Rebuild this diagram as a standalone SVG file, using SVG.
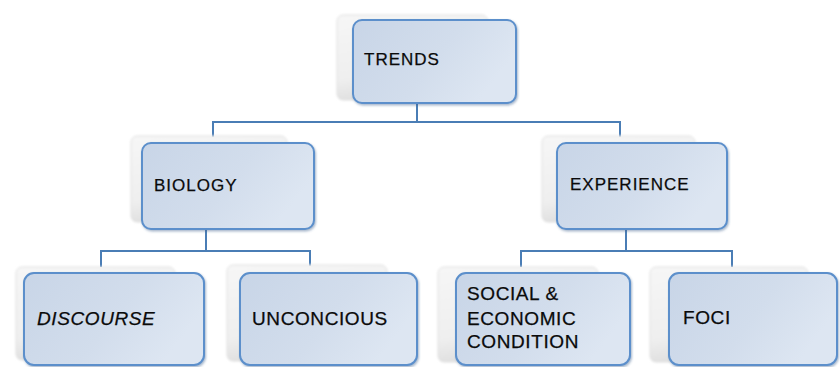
<svg xmlns="http://www.w3.org/2000/svg" width="840" height="367" viewBox="0 0 840 367">
  <defs>
    <linearGradient id="cardFill" x1="0" y1="0" x2="1" y2="0.4">
      <stop offset="0" stop-color="#c8d5e7"/>
      <stop offset="0.6" stop-color="#d2ddec"/>
      <stop offset="1" stop-color="#dde6f2"/>
    </linearGradient>
    <linearGradient id="backFill" x1="0" y1="0" x2="0.3" y2="1">
      <stop offset="0" stop-color="#f6f6f6"/>
      <stop offset="0.7" stop-color="#efefef"/>
      <stop offset="1" stop-color="#dcdcdc"/>
    </linearGradient>
    <filter id="soft" x="-10%" y="-10%" width="120%" height="130%">
      <feGaussianBlur stdDeviation="0.8"/>
    </filter>
    <filter id="lift" x="-10%" y="-10%" width="125%" height="130%">
      <feDropShadow dx="1" dy="1.5" stdDeviation="1" flood-color="#3a5f8c" flood-opacity="0.45"/>
    </filter>
  </defs>
  <style>
    .back { fill: url(#backFill); stroke: #e0e0e0; stroke-width: 1; filter: url(#soft); }
    .card { fill: url(#cardFill); stroke: #5b8fcb; stroke-width: 2; filter: url(#lift); }
    .link { fill: none; stroke: #4a7db5; stroke-width: 2; }
    .label { font-family: "Liberation Sans", Arial, sans-serif; fill: #0a0a0a; stroke: #0a0a0a; stroke-width: 0.25; }
    .mid { font-size: 17px; letter-spacing: 1px; }
    .low { font-size: 19px; letter-spacing: 0.6px; }
  </style>

  <rect width="840" height="367" fill="#ffffff"/>

  <g id="connectors">
    <path class="link" d="M417 104 V122 M213 122 H620 M213 121 V137 M620 121 V137"/>
    <path class="link" d="M206 230 V251 M101 251 H310 M101 250 V267 M310 250 V266"/>
    <path class="link" d="M626 230 V251 M521 251 H732 M521 250 V267 M732 250 V267"/>
  </g>

  <g id="node-trends">
    <rect class="back" x="337" y="15" width="151" height="85" rx="6"/>
    <rect class="card" x="353" y="20" width="163" height="83" rx="9"/>
    <text class="label mid" x="364" y="65" letter-spacing="0.5">TRENDS</text>
  </g>

  <g id="node-biology">
    <rect class="back" x="131" y="136" width="156" height="86" rx="6"/>
    <rect class="card" x="142" y="143" width="172" height="86" rx="9"/>
    <text class="label mid" x="154" y="191" letter-spacing="1.6">BIOLOGY</text>
  </g>

  <g id="node-experience">
    <rect class="back" x="542" y="136" width="153" height="86" rx="6"/>
    <rect class="card" x="557" y="143" width="170" height="86" rx="9"/>
    <text class="label mid" x="570" y="190">EXPERIENCE</text>
  </g>

  <g id="node-discourse">
    <rect class="back" x="16" y="267" width="159" height="93" rx="6"/>
    <rect class="card" x="24" y="273" width="180" height="92" rx="10"/>
    <text class="label low" x="37" y="325" font-style="italic" letter-spacing="0.2">DISCOURSE</text>
  </g>

  <g id="node-unconcious">
    <rect class="back" x="227" y="265" width="160" height="96" rx="6"/>
    <rect class="card" x="240" y="273" width="177" height="92" rx="10"/>
    <text class="label low" x="252" y="325" font-size="20" letter-spacing="0.9">UNCONCIOUS</text>
  </g>

  <g id="node-social">
    <rect class="back" x="438" y="267" width="160" height="95" rx="6"/>
    <rect class="card" x="456" y="273" width="174" height="92" rx="10"/>
    <text class="label low" x="467" y="300" font-size="19.5" letter-spacing="1.4">SOCIAL &amp;</text>
    <text class="label low" x="467" y="325" font-size="19.5" letter-spacing="1.4">ECONOMIC</text>
    <text class="label low" x="467" y="348" font-size="19.5" letter-spacing="1.4">CONDITION</text>
  </g>

  <g id="node-foci">
    <rect class="back" x="650" y="267" width="158" height="95" rx="6"/>
    <rect class="card" x="669" y="273" width="168" height="92" rx="10"/>
    <text class="label low" x="683" y="324">FOCI</text>
  </g>
</svg>
